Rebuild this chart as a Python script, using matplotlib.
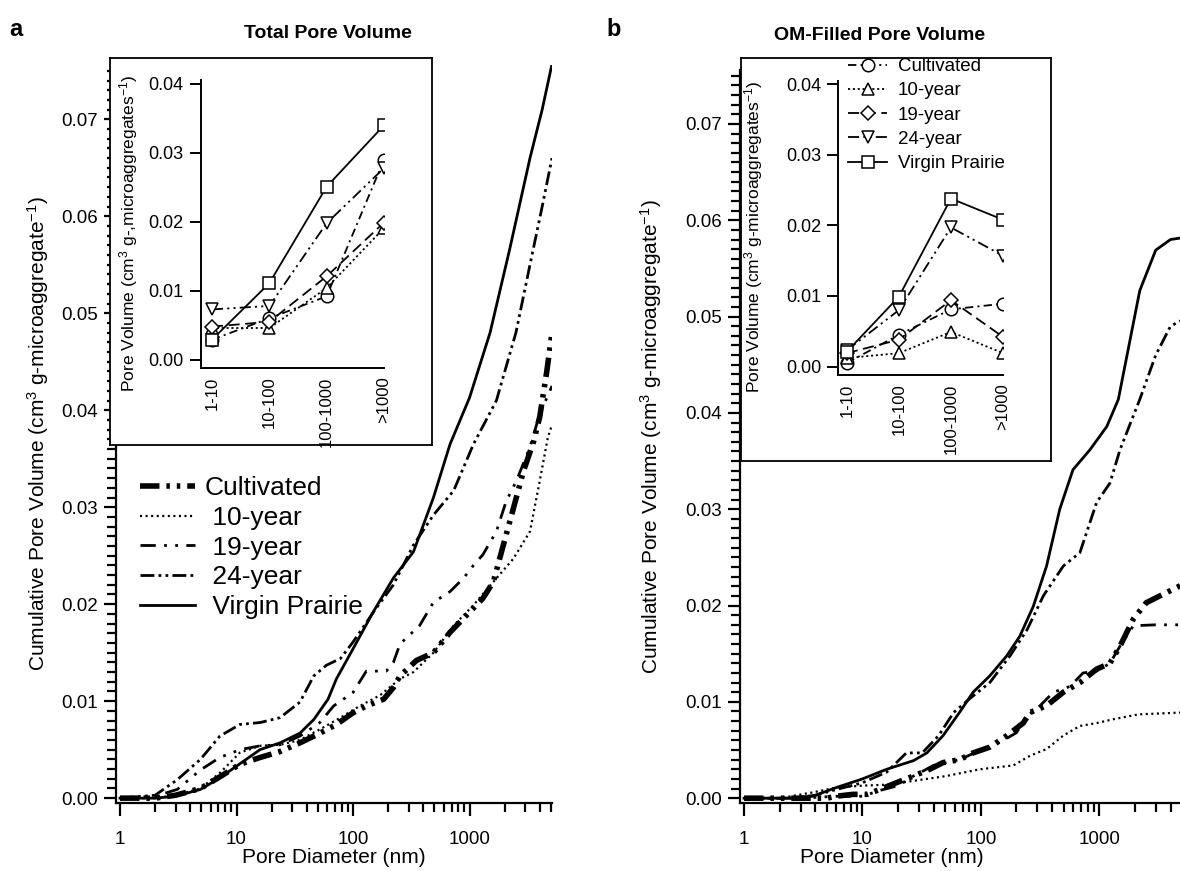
import matplotlib
matplotlib.use('Agg')
import matplotlib.pyplot as plt
from matplotlib.ticker import MultipleLocator, LogLocator, FixedLocator, NullFormatter, FormatStrFormatter

plt.rcParams['font.family'] = ['Liberation Sans', 'DejaVu Sans']
plt.rcParams['mathtext.default'] = 'regular'
plt.rcParams['lines.scale_dashes'] = False

W, H = 1180, 871

# ---- data ----------------------------------------------------------------
series = ['Cultivated', '10-year', '19-year', '24-year', 'Virgin Prairie']
bins = ['1-10', '10-100', '100-1000', '>1000']

# panel a: total pore volume (diameter nm, cumulative volume)
cult_a_d = [1, 2, 3, 4.9, 7.2, 10.7, 16, 23.6, 35, 52, 72, 100, 130, 183, 222, 253, 350, 490, 680, 950, 1300, 1600, 1950, 2380, 2900, 3550, 4000, 4600, 5100]
cult_a_v = [0, 0, 0.0003, 0.001, 0.0022, 0.0035, 0.0042, 0.0048, 0.0057, 0.0067, 0.0076, 0.0088, 0.0095, 0.0102, 0.0114, 0.0126, 0.0142, 0.015, 0.0171, 0.0189, 0.0206, 0.0223, 0.0261, 0.0299, 0.0337, 0.0368, 0.0393, 0.044, 0.048]
y10_a_d = [1, 2, 3, 4.9, 7.2, 10.7, 16, 23.6, 35, 52, 78, 114, 170, 253, 330, 490, 730, 1080, 1600, 2380, 3300, 4000, 4700, 5100]
y10_a_v = [0, 0, 0.0003, 0.001, 0.0026, 0.0047, 0.0054, 0.0055, 0.006, 0.0071, 0.0083, 0.0095, 0.0106, 0.0123, 0.013, 0.015, 0.0178, 0.0199, 0.0223, 0.0247, 0.0275, 0.0327, 0.0372, 0.0385]
y19_a_d = [1, 2, 3.1, 4.9, 7.2, 10.7, 16, 23.6, 35, 52, 68, 100, 130, 193, 222, 253, 373, 490, 680, 890, 1080, 1300, 1700, 2060, 2520, 3300, 4000, 5100]
y19_a_v = [0, 0.0002, 0.0009, 0.0029, 0.0042, 0.005, 0.0054, 0.0055, 0.0064, 0.0078, 0.0095, 0.0109, 0.0131, 0.0131, 0.014, 0.0159, 0.0178, 0.0202, 0.0213, 0.0227, 0.024, 0.0251, 0.0275, 0.0306, 0.0327, 0.0362, 0.0396, 0.0425]
y24_a_d = [1, 2, 3.1, 4.9, 7.2, 10.7, 16, 23.6, 35, 46, 59, 78, 100, 150, 222, 330, 490, 730, 1080, 1700, 2500, 3300, 4200, 5100]
y24_a_v = [0, 0.0003, 0.0019, 0.004, 0.0064, 0.0076, 0.0078, 0.0083, 0.0099, 0.0126, 0.0137, 0.0144, 0.0161, 0.0192, 0.022, 0.0261, 0.0292, 0.0317, 0.0365, 0.041, 0.048, 0.055, 0.061, 0.066]
vp_a_d = [1, 2, 3, 4.9, 7, 10, 15.9, 23.6, 35, 46, 61, 72, 100, 149, 222, 330, 490, 680, 1000, 1500, 2200, 3300, 4200, 5100]
vp_a_v = [0, 0, 0.0002, 0.0009, 0.002, 0.0033, 0.005, 0.0057, 0.0067, 0.0081, 0.0102, 0.0123, 0.0154, 0.0192, 0.0227, 0.0254, 0.031, 0.0365, 0.0413, 0.048, 0.0565, 0.066, 0.071, 0.0757]

# panel b: OM-filled pore volume
cult_b_d = [1, 3, 5, 6, 8.3, 10.9, 14, 19.3, 27, 37, 48, 66, 86, 119, 166, 228, 260, 359, 497, 687, 950, 1230, 1500, 1940, 2500, 3250, 5100]
cult_b_v = [0, 0, 0, 0.0002, 0.0004, 0.0004, 0.0009, 0.0016, 0.0023, 0.003, 0.0037, 0.004, 0.0047, 0.0053, 0.0065, 0.0078, 0.0089, 0.0096, 0.011, 0.012, 0.0134, 0.014, 0.0158, 0.0186, 0.0203, 0.021, 0.0222]
y10_b_d = [1, 2, 3.8, 6, 10, 16, 27, 51, 98, 188, 260, 359, 497, 687, 950, 1320, 2150, 5100]
y10_b_v = [0, 0, 0.0006, 0.0011, 0.0013, 0.0014, 0.0018, 0.0023, 0.003, 0.0034, 0.0044, 0.0051, 0.0065, 0.0075, 0.0078, 0.0082, 0.0087, 0.0089]
y19_b_d = [1, 3, 6, 10, 14, 20, 27, 40, 66, 96, 145, 200, 246, 316, 410, 566, 730, 950, 1230, 1500, 1940, 3000, 5100]
y19_b_v = [0, 0, 0.0002, 0.0002, 0.0008, 0.0013, 0.0023, 0.0034, 0.004, 0.0049, 0.0058, 0.0068, 0.0085, 0.0096, 0.011, 0.0116, 0.013, 0.0132, 0.014, 0.0158, 0.0179, 0.018, 0.018]
y24_b_d = [1, 2.4, 4, 6, 10, 16, 23.5, 32, 44, 59, 80, 119, 177, 246, 337, 497, 687, 950, 1230, 1500, 2200, 3000, 4000, 5100]
y24_b_v = [0, 0, 0.0003, 0.0009, 0.0016, 0.0027, 0.0047, 0.0047, 0.0065, 0.0089, 0.0103, 0.012, 0.0148, 0.0175, 0.021, 0.0241, 0.0255, 0.0307, 0.0327, 0.0362, 0.0414, 0.046, 0.049, 0.0497]
vp_b_d = [1, 2.4, 3.8, 6, 10, 16, 27, 35, 48, 66, 86, 119, 166, 213, 277, 359, 464, 600, 838, 1160, 1450, 2200, 3000, 4000, 5100]
vp_b_v = [0, 0, 0.0002, 0.0011, 0.002, 0.003, 0.0039, 0.0047, 0.0065, 0.0089, 0.011, 0.0127, 0.0148, 0.0168, 0.0199, 0.0241, 0.03, 0.0341, 0.0362, 0.0386, 0.0414, 0.0527, 0.0569, 0.058, 0.0582]

# insets: pore volume per size class
inset_a = {
    'Cultivated': [0.0029, 0.006, 0.0092, 0.029],
    '10-year': [0.0046, 0.0046, 0.0104, 0.0191],
    '19-year': [0.0048, 0.0055, 0.0121, 0.0199],
    '24-year': [0.0073, 0.0078, 0.0198, 0.0278],
    'Virgin Prairie': [0.0029, 0.0111, 0.0251, 0.034],
}
inset_b = {
    'Cultivated': [0.0005, 0.0045, 0.0081, 0.0089],
    '10-year': [0.0012, 0.0019, 0.0049, 0.0019],
    '19-year': [0.0019, 0.0038, 0.0094, 0.0042],
    '24-year': [0.0023, 0.008, 0.0197, 0.0157],
    'Virgin Prairie': [0.0021, 0.0099, 0.0238, 0.0208],
}

# line styles
main_style = {
    'Cultivated': dict(lw=4.0, dashes=(14, 5, 2.5, 5, 2.5, 5)),
    '10-year': dict(lw=1.6, dashes=(1.5, 2.5)),
    '19-year': dict(lw=2.0, dashes=(11, 6, 2, 6, 2, 6)),
    '24-year': dict(lw=2.0, dashes=(10, 3, 2, 3, 2, 3)),
    'Virgin Prairie': dict(lw=2.0),
}
inset_style = {
    'Cultivated': dict(marker='o', dashes=(6, 3, 1.5, 3)),
    '10-year': dict(marker='^', dashes=(1.5, 2)),
    '19-year': dict(marker='D', dashes=(8, 4)),
    '24-year': dict(marker='v', dashes=(8, 3, 1.5, 3, 1.5, 3)),
    'Virgin Prairie': dict(marker='s'),
}


def px_box(x0, y0, x1, y1):
    return [x0 / W, 1 - y1 / H, (x1 - x0) / W, (y1 - y0) / H]


def setup_main(ax):
    ax.set_xscale('log')
    ax.set_xlim(0.924, 5100)
    ax.set_ylim(-0.0005, 0.0756)
    for s in ['top', 'right']:
        ax.spines[s].set_visible(False)
    for s in ['left', 'bottom']:
        ax.spines[s].set_linewidth(1.6)
    ax.yaxis.set_major_locator(MultipleLocator(0.01))
    ax.yaxis.set_minor_locator(MultipleLocator(0.001))
    ax.yaxis.set_major_formatter(FormatStrFormatter('%.2f'))
    ax.xaxis.set_minor_locator(LogLocator(base=10, subs=range(2, 10), numticks=20))
    ax.xaxis.set_minor_formatter(NullFormatter())
    ax.set_xticks([1, 10, 100, 1000])
    ax.set_xticklabels(['1', '10', '100', '1000'])
    ax.tick_params(which='major', length=9, width=1.6, labelsize=13.5)
    ax.tick_params(which='minor', length=6.5, width=1.6)
    ax.tick_params(axis='y', which='major', pad=4)
    ax.tick_params(axis='x', which='major', pad=11)
    ax.set_xlabel('Pore Diameter (nm)', fontsize=15)


def setup_inset(ax, xmin):
    ax.set_xlim(xmin, 3.0)
    ax.set_ylim(-0.0012, 0.0405)
    for s in ['top', 'right']:
        ax.spines[s].set_visible(False)
    for s in ['left', 'bottom']:
        ax.spines[s].set_linewidth(1.4)
    ax.yaxis.set_major_locator(FixedLocator([0, 0.01, 0.02, 0.03, 0.04]))
    ax.yaxis.set_major_formatter(FormatStrFormatter('%.2f'))
    ax.set_xticks(range(len(bins)))
    ax.set_xticklabels(bins, rotation=90, va='top', ha='center')
    ax.tick_params(axis='y', length=8, width=1.4, labelsize=13, pad=4)
    ax.tick_params(axis='x', length=0, labelsize=12, pad=6)
    ax.patch.set_alpha(0)


def add_frame(box):
    fr = fig.add_axes(box, zorder=3)
    fr.set_xticks([])
    fr.set_yticks([])
    for s in fr.spines.values():
        s.set_linewidth(1.3)
    fr.set_facecolor('white')
    return fr


fig = plt.figure(figsize=(W / 100, H / 100), dpi=100)

# ---- panel a -----------------------------------------------------------
ax_a = fig.add_axes(px_box(116, 65, 552, 803))
setup_main(ax_a)
main_a = [(cult_a_d, cult_a_v), (y10_a_d, y10_a_v), (y19_a_d, y19_a_v),
          (y24_a_d, y24_a_v), (vp_a_d, vp_a_v)]
handles = []
for name, (d, v) in zip(series, main_a):
    ln, = ax_a.plot(d, v, color='black', dash_capstyle='butt', **main_style[name])
    handles.append(ln)
ax_a.set_ylabel('Cumulative Pore Volume (cm$^{3}$ g-microaggregate$^{-1}$)', fontsize=15)
ax_a.yaxis.set_label_coords(-0.148, 0.5)
ax_a.xaxis.set_label_coords(0.5, -0.061)
ax_a.legend(handles, ['Cultivated', ' 10-year', ' 19-year', ' 24-year', ' Virgin Prairie'],
            loc='upper left', bbox_to_anchor=(140 / W, 1 - 476 / H),
            bbox_transform=fig.transFigure, frameon=False, fontsize=19,
            handlelength=2.1, handletextpad=0.35, labelspacing=0.22,
            borderpad=0, borderaxespad=0)

add_frame(px_box(110, 58, 432, 445))
in_a = fig.add_axes(px_box(200.5, 80.5, 384, 368), zorder=4)
setup_inset(in_a, -0.2)
for name in series:
    in_a.plot(range(len(bins)), inset_a[name], color='black', lw=1.3,
              markersize=9 if inset_style[name]['marker'] != 'D' else 7,
              markerfacecolor='white', markeredgecolor='black', markeredgewidth=1.1,
              **inset_style[name])
in_a.set_ylabel('Pore Volume (cm$^{3}$ g-,microaggregates$^{-1}$)', fontsize=12.5)
in_a.yaxis.set_label_coords(-0.33, 0.47)

# ---- panel b -----------------------------------------------------------
ax_b = fig.add_axes(px_box(740, 70, 1183, 803))
setup_main(ax_b)
main_b = [(cult_b_d, cult_b_v), (y10_b_d, y10_b_v), (y19_b_d, y19_b_v),
          (y24_b_d, y24_b_v), (vp_b_d, vp_b_v)]
for name, (d, v) in zip(series, main_b):
    ax_b.plot(d, v, color='black', dash_capstyle='butt', **main_style[name])
ax_b.set_ylabel('Cumulative Pore Volume (cm$^{3}$ g-microaggregate$^{-1}$)', fontsize=15)
ax_b.yaxis.set_label_coords(-0.172, 0.5)
ax_b.xaxis.set_label_coords(0.343, -0.061)

add_frame(px_box(741, 58, 1051, 461))
in_b = fig.add_axes(px_box(838, 80.7, 1003, 375), zorder=4)
setup_inset(in_b, -0.17)
ih = []
for name in series:
    ln, = in_b.plot(range(len(bins)), inset_b[name], color='black', lw=1.3,
                    markersize=9 if inset_style[name]['marker'] != 'D' else 7,
                    markerfacecolor='white', markeredgecolor='black', markeredgewidth=1.1,
                    **inset_style[name])
    ih.append(ln)
in_b.set_ylabel('Pore Volume (cm$^{3}$ g-microaggregates$^{-1}$)', fontsize=12.5)
in_b.yaxis.set_label_coords(-0.44, 0.47)
in_b.legend(ih, series, loc='upper left', bbox_to_anchor=(848 / W, 1 - 58 / H),
            bbox_transform=fig.transFigure, frameon=False, fontsize=13.5,
            handlelength=2.1, handletextpad=0.55, labelspacing=0.38,
            borderpad=0, borderaxespad=0)

# ---- titles ------------------------------------------------------------
fig.text(9 / W, 1 - 29 / H, 'a', fontsize=17, fontweight='bold', va='center')
fig.text(606 / W, 1 - 29 / H, 'b', fontsize=17, fontweight='bold', va='center')
fig.text(328 / W, 1 - 33 / H, 'Total Pore Volume', fontsize=14, fontweight='bold', ha='center', va='center')
fig.text(880 / W, 1 - 36 / H, 'OM-Filled Pore Volume', fontsize=14, fontweight='bold', ha='center', va='center')

fig.savefig('out.png', dpi=100)
